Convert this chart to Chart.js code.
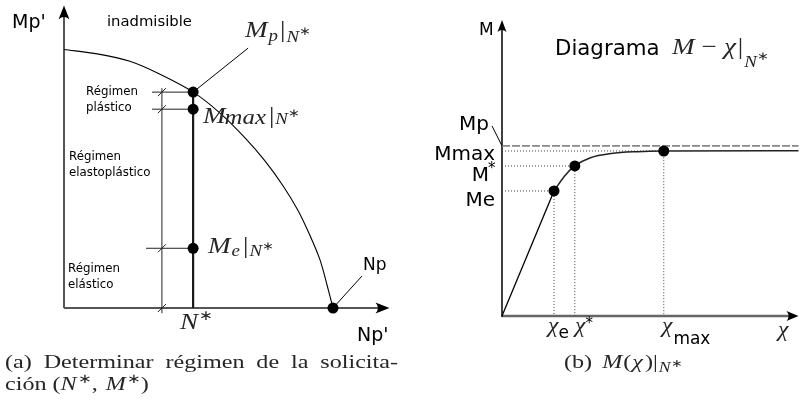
<!DOCTYPE html>
<html>
<head>
<meta charset="utf-8">
<script src="https://cdn.jsdelivr.net/npm/chart.js@4.4.0/dist/chart.umd.min.js"></script>
<style>
  body { margin: 0; background: #fff; width: 804px; height: 407px; overflow: hidden; position: relative; }
  canvas { position: absolute; top: 0; }
  #interaccion { left: 0; }
  #momento { left: 400px; }
</style>
</head>
<body>
<canvas id="interaccion" width="400" height="407"></canvas>
<canvas id="momento" width="404" height="407"></canvas>
<script>
// Curva de interaccion, normalizada: N/Np y M/Mp
const curvaN = [0, 0.134, 0.245, 0.357, 0.480, 0.580, 0.673, 0.747, 0.814, 0.870, 0.914, 0.952, 0.978, 1];
const curvaM = [1, 0.981, 0.954, 0.904, 0.835, 0.754, 0.658, 0.569, 0.473, 0.377, 0.281, 0.185, 0.088, 0];

// Solicitacion N* y momentos limite sobre la vertical N = N*
const nEstrella = 0.48;
const mNiveles = [0.835, 0.769, 0.231];      // Mp|N*, Mmax|N*, Me|N*
const nInicioCotas = [0.327, 0.327, 0.305];  // donde arrancan las lineas de cota
const nCota = 0.364;                          // vertical de las cotas de regimen

// Diagrama M - chi (chi/chi_e, M/Mp)
const chiElastico = [0, 1];
const mElastico = [0, 0.735];
const chiCurva = [1, 1.2, 1.4, 1.7, 2.1, 2.6, 3.11, 5.7];
const mCurva = [0.735, 0.822, 0.882, 0.93, 0.955, 0.966, 0.97, 0.972];
const chiMarcas = [1, 1.4, 3.11];     // chi_e, chi*, chi_max
const mMarcas = [0.735, 0.882, 0.97]; // Me, M*, Mmax
const mPlastico = 1;

const SANS = '"DejaVu Sans", sans-serif';
const SERIF = '"Liberation Serif", serif';
const ANCHO = 1.18;    // ensanche horizontal de las formulas
const ANCHO_PIE = 1.27; // y de los pies de figura

function xy(xs, ys) { return xs.map((x, i) => ({ x: x, y: ys[i] })); }

// escribe una secuencia de trozos de texto con distinta fuente y desplazamiento vertical
function runs(ctx, x, y, parts, kDef) {
  parts.forEach(p => {
    const serif = p.f.indexOf('Serif') >= 0;
    const k = serif ? (kDef || ANCHO) : 1;
    ctx.font = p.f;
    ctx.save();
    ctx.fillStyle = serif ? '#262626' : '#000';
    ctx.translate(x, y + (p.dy || 0));
    ctx.scale(k, 1);
    ctx.fillText(p.t, 0, 0);
    ctx.restore();
    x += ctx.measureText(p.t).width * k + (p.sp || 0);
  });
  return x;
}

function flecha(ctx, x, y, ang, len, half) {
  ctx.save();
  ctx.translate(x, y);
  ctx.rotate(ang);
  ctx.beginPath();
  ctx.moveTo(0, 0);
  ctx.lineTo(-len, -half);
  ctx.quadraticCurveTo(-len * 0.65, 0, -len, half);
  ctx.closePath();
  ctx.fillStyle = '#000';
  ctx.fill();
  ctx.restore();
}

function linea(ctx, x1, y1, x2, y2, color, w) {
  ctx.beginPath();
  ctx.moveTo(x1, y1);
  ctx.lineTo(x2, y2);
  ctx.strokeStyle = color;
  ctx.lineWidth = w;
  ctx.stroke();
}

// linea de pie de figura justificada entre x0 y x1
function justificada(ctx, palabras, fuente, x0, x1, y) {
  ctx.font = fuente;
  const anchos = palabras.map(p => ctx.measureText(p).width * ANCHO_PIE);
  const total = anchos.reduce((a, b) => a + b, 0);
  const hueco = (x1 - x0 - total) / (palabras.length - 1);
  let x = x0;
  palabras.forEach((p, i) => {
    runs(ctx, x, y, [{ t: p, f: fuente }], ANCHO_PIE);
    x += anchos[i] + hueco;
  });
}

const escalasOcultas = (xmax, ymax) => ({
  x: { type: 'linear', min: 0, max: xmax, display: false },
  y: { type: 'linear', min: 0, max: ymax, display: false }
});

const base = {
  responsive: false,
  animation: false,
  events: [],
  plugins: { legend: { display: false }, tooltip: { enabled: false } }
};

// ---------- (a) diagrama de interaccion ----------
const lineasCota = mNiveles.map((m, i) => ({
  data: [{ x: nInicioCotas[i], y: m }, { x: nEstrella, y: m }],
  showLine: true, borderColor: '#222', borderWidth: 1, pointRadius: 0, clip: false, order: 3
}));

new Chart(document.getElementById('interaccion'), {
  type: 'scatter',
  data: {
    datasets: [
      {
        data: [...mNiveles.map(m => ({ x: nEstrella, y: m })), { x: 1, y: 0 }],
        pointRadius: 5.5, pointBackgroundColor: '#000', pointBorderWidth: 0, clip: false, order: 0
      },
      {
        data: xy(curvaN, curvaM), showLine: true, tension: 0.3,
        borderColor: '#000', borderWidth: 1.1, pointRadius: 0, clip: false, order: 2
      },
      {
        data: [{ x: nEstrella, y: 0 }, { x: nEstrella, y: mNiveles[0] }], showLine: true,
        borderColor: '#1a1a1a', borderWidth: 2.2, pointRadius: 0, clip: false, order: 1
      },
      {
        data: [{ x: nCota, y: -0.02 }, { x: nCota, y: 0.85 }], showLine: true,
        borderColor: '#222', borderWidth: 1, pointRadius: 0, clip: false, order: 3
      },
      ...lineasCota
    ]
  },
  options: {
    ...base,
    layout: { padding: { left: 64, right: 10.5, top: 4, bottom: 99 } },
    scales: escalasOcultas(1.21, 1.17)
  },
  plugins: [{
    id: 'anotacionesA',
    beforeDatasetsDraw(chart) {
      const ctx = chart.ctx, xs = chart.scales.x, ys = chart.scales.y;
      const x0 = xs.getPixelForValue(0), y0 = ys.getPixelForValue(0);
      ctx.save();
      linea(ctx, x0, y0, xs.right - 8, y0, '#555', 2);
      linea(ctx, x0, y0, x0, ys.top + 8, '#555', 2);
      flecha(ctx, xs.right, y0, 0, 14, 5.5);
      flecha(ctx, x0, ys.top, -Math.PI / 2, 14, 5.5);
      ctx.restore();
    },
    afterDatasetsDraw(chart) {
      const ctx = chart.ctx, xs = chart.scales.x, ys = chart.scales.y;
      const xc = xs.getPixelForValue(nCota), xn = xs.getPixelForValue(nEstrella);
      ctx.save();
      // marcas de cota
      [...mNiveles, 0].forEach(m => {
        const y = ys.getPixelForValue(m);
        linea(ctx, xc - 4, y + 4, xc + 4, y - 4, '#222', 1);
      });
      // lineas de referencia a las etiquetas
      const yp = ys.getPixelForValue(mNiveles[0]);
      linea(ctx, xn, yp, xn + 55, yp - 44, '#000', 1);
      const xnp = xs.getPixelForValue(1), ynp = ys.getPixelForValue(0);
      linea(ctx, xnp, ynp, xnp + 29, ynp - 32, '#000', 1);

      ctx.fillStyle = '#000';
      ctx.textBaseline = 'alphabetic';
      ctx.font = '19px ' + SANS;
      ctx.fillText("Mp'", 12, 28);
      ctx.fillText("Np'", 357, 341);
      ctx.font = '14.8px ' + SANS;
      ctx.fillText('inadmisible', 107, 26);
      ctx.font = '17px ' + SANS;
      ctx.fillText('Np', 363, 270);

      ctx.font = '11.8px ' + SANS;
      ctx.fillText('Régimen', 86, 95);
      ctx.fillText('plástico', 86, 111);
      ctx.fillText('Régimen', 69, 160);
      ctx.fillText('elastoplástico', 69, 176);
      ctx.fillText('Régimen', 68, 272);
      ctx.fillText('elástico', 68, 288);

      const mi = 'italic 23px ' + SERIF, si = 'italic 16px ' + SERIF, rm = '23px ' + SERIF;
      const ss = '12px ' + SERIF;
      runs(ctx, 245, 37, [
        { t: 'M', f: mi, sp: 1 }, { t: 'p', f: si, dy: 4, sp: 2 }, { t: '|', f: rm, sp: 1 },
        { t: 'N', f: si, dy: 5 }, { t: '∗', f: ss, dy: -2 }
      ]);
      runs(ctx, 203, 123, [
        { t: 'M', f: mi, sp: -1 }, { t: 'max', f: 'italic 21px ' + SERIF, dy: 1, sp: 3 },
        { t: '|', f: rm, sp: 1 }, { t: 'N', f: si, dy: 1 }, { t: '∗', f: ss, dy: -6 }
      ]);
      runs(ctx, 208, 253, [
        { t: 'M', f: mi, sp: 1 }, { t: 'e', f: si, dy: 3, sp: 3 }, { t: '|', f: rm, sp: 1 },
        { t: 'N', f: si, dy: 3 }, { t: '∗', f: ss, dy: -3 }
      ]);
      runs(ctx, 180, 329, [
        { t: 'N', f: 'italic 23px ' + SERIF, sp: 1 }, { t: '∗', f: '14px ' + SERIF, dy: -9 }
      ]);

      // pie de figura
      const r = '19px ' + SERIF, it = 'italic 19px ' + SERIF, sup = '13px ' + SERIF;
      justificada(ctx, ['(a)', 'Determinar', 'régimen', 'de', 'la', 'solicita-'], r, 5, 398, 368);
      runs(ctx, 5, 390, [
        { t: 'ción (', f: r }, { t: 'N', f: it, sp: 1 }, { t: '∗', f: sup, dy: -7 }, { t: ', ', f: r, sp: 2 },
        { t: 'M', f: it, sp: 1 }, { t: '∗', f: sup, dy: -7 }, { t: ')', f: r }
      ], ANCHO_PIE);
      ctx.restore();
    }
  }]
});

// ---------- (b) diagrama momento - curvatura ----------
const punteadas = [];
chiMarcas.forEach((c, i) => {
  punteadas.push({
    data: [{ x: 0, y: mMarcas[i] }, { x: c, y: mMarcas[i] }, { x: c, y: 0 }], showLine: true,
    borderColor: '#444', borderWidth: 1, borderDash: [1, 2], pointRadius: 0, clip: false, order: 3
  });
});

new Chart(document.getElementById('momento'), {
  type: 'scatter',
  data: {
    datasets: [
      {
        data: xy(chiMarcas, mMarcas), pointRadius: 5.5, pointBackgroundColor: '#000',
        pointBorderWidth: 0, clip: false, order: 0
      },
      {
        data: xy(chiElastico, mElastico), showLine: true, borderColor: '#000', borderWidth: 1.3,
        pointRadius: 0, clip: false, order: 1
      },
      {
        data: xy(chiCurva, mCurva), showLine: true, cubicInterpolationMode: 'monotone',
        borderColor: '#222', borderWidth: 1.5, pointRadius: 0, clip: false, order: 1
      },
      {
        data: [{ x: 0, y: mPlastico }, { x: 5.7, y: mPlastico }], showLine: true,
        borderColor: '#888', borderWidth: 1.6, borderDash: [8, 2], pointRadius: 0, clip: false, order: 2
      },
      ...punteadas
    ]
  },
  options: {
    ...base,
    layout: { padding: { left: 102, right: 0, top: 20, bottom: 91 } },
    scales: escalasOcultas(5.7, 1.74)
  },
  plugins: [{
    id: 'anotacionesB',
    beforeDatasetsDraw(chart) {
      const ctx = chart.ctx, xs = chart.scales.x, ys = chart.scales.y;
      const x0 = xs.getPixelForValue(0), y0 = ys.getPixelForValue(0);
      ctx.save();
      linea(ctx, x0, y0, xs.right - 8, y0, '#666', 2.5);
      linea(ctx, x0, y0 + 1, x0, ys.top + 6, '#000', 1.5);
      flecha(ctx, xs.right, y0, 0, 12, 5);
      flecha(ctx, x0, ys.top, -Math.PI / 2, 12, 4.5);
      ctx.restore();
    },
    afterDatasetsDraw(chart) {
      const ctx = chart.ctx, xs = chart.scales.x, ys = chart.scales.y;
      const x0 = xs.getPixelForValue(0);
      ctx.save();
      linea(ctx, x0 - 10, ys.getPixelForValue(mPlastico) - 20, x0, ys.getPixelForValue(mPlastico), '#000', 1);

      ctx.fillStyle = '#000';
      ctx.textBaseline = 'alphabetic';
      ctx.font = '17px ' + SANS;
      ctx.fillText('M', 79, 35);
      ctx.font = '21.3px ' + SANS;
      ctx.fillText('Diagrama', 155, 55);
      const mi = 'italic 23px ' + SERIF, rm = '23px ' + SERIF, si = 'italic 16px ' + SERIF;
      runs(ctx, 272, 54, [
        { t: 'M', f: mi, sp: 7 }, { t: '−', f: rm, sp: 7 }, { t: 'χ', f: mi, sp: 2 },
        { t: '|', f: rm, sp: 1 }, { t: 'N', f: si, dy: 13 }, { t: '∗', f: '12px ' + SERIF, dy: 6 }
      ]);

      ctx.font = '20px ' + SANS;
      ctx.textAlign = 'right';
      ctx.fillText('Mp', 89, 130);
      ctx.fillText('Mmax', 95, 160);
      ctx.fillText('M', 89, 181);
      ctx.fillText('Me', 95, 206);
      ctx.textAlign = 'left';
      ctx.font = '15px ' + SANS;
      ctx.fillText('*', 88, 173);

      const chi = 'italic 20px ' + SERIF;
      runs(ctx, 148, 332, [{ t: 'χ', f: chi, sp: 0 }, { t: 'e', f: '17px ' + SANS, dy: 6 }]);
      runs(ctx, 175, 332, [{ t: 'χ', f: chi, sp: 0 }, { t: '*', f: '15px ' + SANS, dy: -4 }]);
      runs(ctx, 262, 332, [{ t: 'χ', f: chi, sp: 1 }, { t: 'max', f: '17px ' + SANS, dy: 12 }]);
      runs(ctx, 378, 336, [{ t: 'χ', f: chi }]);

      const r = '19px ' + SERIF, it = 'italic 19px ' + SERIF;
      runs(ctx, 164, 368, [
        { t: '(b) ', f: r, sp: 4 }, { t: 'M', f: it, sp: 1 }, { t: '(', f: r, sp: 1 }, { t: 'χ', f: it, sp: 2 },
        { t: ')|', f: r, sp: 1 }, { t: 'N', f: 'italic 14px ' + SERIF, dy: 4 }, { t: '∗', f: '11px ' + SERIF, dy: -1 }
      ], ANCHO_PIE);
      ctx.restore();
    }
  }]
});
</script>
</body>
</html>
